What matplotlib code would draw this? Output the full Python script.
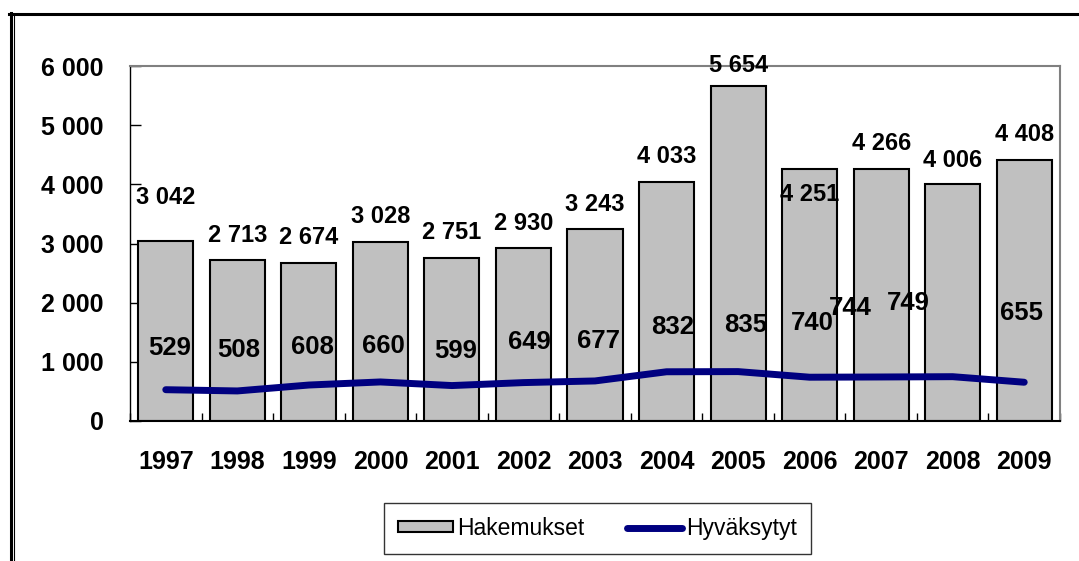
import matplotlib.pyplot as plt
from matplotlib.lines import Line2D
from matplotlib.ticker import FuncFormatter
import numpy as np

plt.rcParams['font.family'] = ['Liberation Sans', 'DejaVu Sans']

# data
years = ['1997', '1998', '1999', '2000', '2001', '2002', '2003',
         '2004', '2005', '2006', '2007', '2008', '2009']
hakemukset = [3042, 2713, 2674, 3028, 2751, 2930, 3243, 4033, 5654, 4251, 4266, 4006, 4408]
hyvaksytyt = [529, 508, 608, 660, 599, 649, 677, 832, 835, 740, 744, 749, 655]

# label placement (as in the original, offsets in data units)
bar_lab_dy = [730, 430, 420, 420, 443, 416, 424, 429, 346, -431, 416, 405, 426]
line_lab_dy = [705, 692, 642, 608, 584, 686, 675, 757, 787, 916, 1166, 1245, 1170]
line_lab_dx = [0.05, 0.02, 0.05, 0.04, 0.05, 0.08, 0.05, 0.08, 0.1, 0.04, -0.43, -0.62, -0.04]


def fmt(v):
    return f'{v:,}'.replace(',', ' ')


fig = plt.figure(figsize=(10.79, 5.61), dpi=100)
ax = fig.add_axes([130 / 1079, 1 - 421 / 561, 930 / 1079, 355 / 561])

x = np.arange(len(years))
bars = ax.bar(x, hakemukset, width=0.77, color='#C0C0C0', edgecolor='black',
              linewidth=1.5, label='Hakemukset', zorder=2)
line, = ax.plot(x, hyvaksytyt, color='#000080', linewidth=5, solid_capstyle='round',
                solid_joinstyle='round', label='Hyväksytyt', zorder=3)

for i, v in enumerate(hakemukset):
    ax.text(x[i], v + bar_lab_dy[i], fmt(v), ha='center', va='center',
            fontsize=17, fontweight='bold', clip_on=False, zorder=5)
for i, v in enumerate(hyvaksytyt):
    ax.text(x[i] + line_lab_dx[i], v + line_lab_dy[i], fmt(v), ha='center', va='center',
            fontsize=18.5, fontweight='bold', zorder=5)

ax.set_xlim(-0.5, len(years) - 0.5)
ax.set_ylim(0, 6000)
ax.set_yticks(range(0, 6001, 1000))
ax.yaxis.set_major_formatter(FuncFormatter(lambda v, p: fmt(int(v))))
ax.set_xticks(x)
ax.set_xticklabels(years)
ax.set_xticks(np.arange(-0.5, len(years)), minor=True)
ax.tick_params(axis='x', which='major', length=0, pad=21, labelsize=18)
ax.tick_params(axis='x', which='minor', direction='in', length=6, width=1)
ax.tick_params(axis='y', direction='in', length=8, width=1, pad=19, labelsize=18)
for lab in ax.get_xticklabels() + ax.get_yticklabels():
    lab.set_fontweight('bold')

ax.spines['top'].set_color('#808080')
ax.spines['right'].set_color('#808080')
ax.spines['top'].set_linewidth(1.5)
ax.spines['right'].set_linewidth(1.5)
ax.spines['left'].set_linewidth(1)
ax.spines['bottom'].set_linewidth(1.5)

leg = fig.legend(handles=[bars, line], labels=['Hakemukset', 'Hyväksytyt'],
                 loc='center', bbox_to_anchor=(597.5 / 1079, 1 - 528.5 / 561),
                 ncol=2, fontsize=16.5, frameon=True, fancybox=False, edgecolor='black',
                 handlelength=2.4, handleheight=0.35, handletextpad=0.15,
                 columnspacing=1.9, borderpad=0.6)
leg.get_frame().set_linewidth(1)

# outer frame of the original picture
fig.add_artist(Line2D([9 / 1079, 1], [1 - 14 / 561, 1 - 14 / 561], color='black', linewidth=2.2))
fig.add_artist(Line2D([10.5 / 1079, 10.5 / 1079], [0, 1 - 13 / 561], color='black', linewidth=2.2))
fig.add_artist(Line2D([13.5 / 1079, 13.5 / 1079], [0, 1 - 15 / 561], color='black', linewidth=0.8))

fig.savefig('out.png', dpi=100)
